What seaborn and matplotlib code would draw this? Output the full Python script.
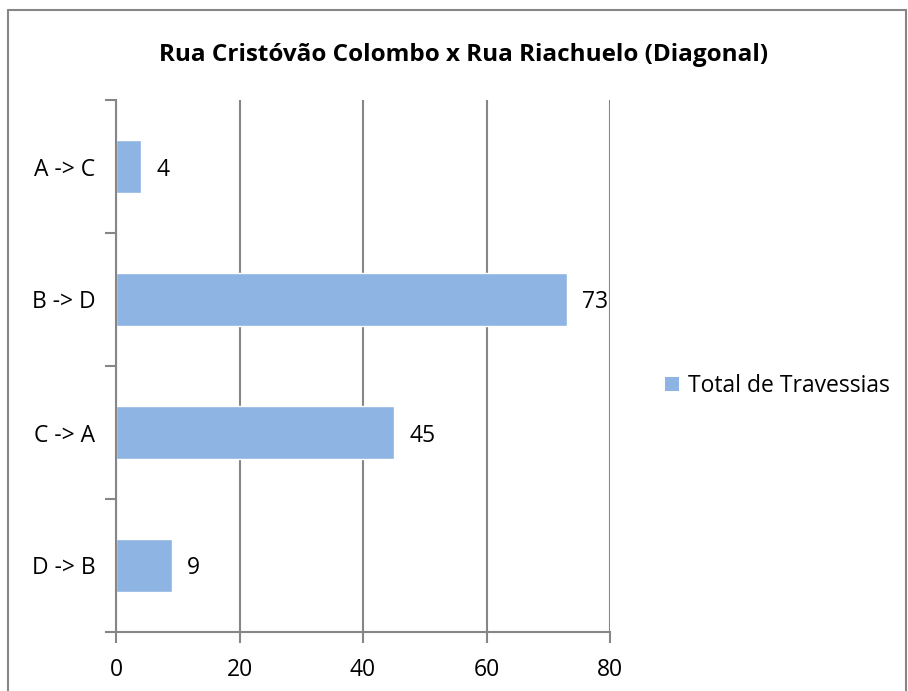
import matplotlib
matplotlib.use("Agg")
import matplotlib.pyplot as plt
import seaborn as sns
import pandas as pd
from matplotlib.lines import Line2D
from matplotlib.patches import Patch

categories = ["A -> C", "B -> D", "C -> A", "D -> B"]
values = [4, 73, 45, 9]
series_name = "Total de Travessias"
title = "Rua Cristóvão Colombo x Rua Riachuelo (Diagonal)"
xticks = [0, 20, 40, 60, 80]

sns.set_theme(style="white")
plt.rcParams['font.family'] = ['Open Sans', 'DejaVu Sans']
plt.rcParams['text.color'] = 'black'
plt.rcParams['xtick.color'] = 'black'
plt.rcParams['ytick.color'] = 'black'

FS = 16.5
W, H = 908, 691
fig = plt.figure(figsize=(W/100, H/100), dpi=100)
ax = fig.add_axes([116/W, 1-632/H, (610-116)/W, (632-100)/H])

df = pd.DataFrame({"cat": categories, "val": values})
bar_color = "#8EB4E3"
grey = "#868686"
sns.barplot(data=df, x="val", y="cat", orient="h", color=bar_color, width=0.4,
            ax=ax, saturation=1)

ax.set_xlim(0, 80)
ax.set_ylim(3.5, -0.5)
ax.set_xticks(xticks)
ax.set_xticklabels([str(t) for t in xticks], fontsize=FS)
ax.set_yticks(range(len(categories)))
ax.set_yticklabels(categories, fontsize=FS)
for lbl in ax.get_yticklabels():
    lbl.set_va('center_baseline')
ax.set_yticks([i - 0.5 for i in range(len(categories) + 1)], minor=True)
ax.tick_params(axis='y', which='major', length=0, pad=25, labelcolor='black')
ax.tick_params(axis='y', which='minor', length=8, width=1.5, color=grey, left=True)
ax.tick_params(axis='x', which='major', length=8, width=1.5, color=grey, bottom=True,
               pad=11, labelcolor='black')
ax.set_xlabel("")
ax.set_ylabel("")
ax.grid(axis='x', color=grey, linewidth=1.5)
ax.set_axisbelow(True)
for s in ["top", "right"]:
    ax.spines[s].set_visible(False)
for s in ["left", "bottom"]:
    ax.spines[s].set_color(grey)
    ax.spines[s].set_linewidth(1.5)

for i, v in enumerate(values):
    ax.text(v + 2.5, i, str(v), va='center_baseline', ha='left', fontsize=FS, color='black')

fig.text(464/W, 1-55/H, title, ha='center', va='center', fontsize=17.5,
         fontweight='bold', color='black')

handles = [Patch(facecolor=bar_color, edgecolor='none', label=series_name)]
fig.legend(handles=handles, loc='center left', bbox_to_anchor=(665/W, 1-386/H),
           frameon=False, fontsize=FS, handlelength=0.6, handleheight=0.6,
           handletextpad=0.4, borderaxespad=0, borderpad=0)

# outer chart border
fig.add_artist(Line2D([8/W, 8/W], [0, 1-10/H], color=grey, lw=1.5, transform=fig.transFigure))
fig.add_artist(Line2D([8/W, 906/W], [1-10/H, 1-10/H], color=grey, lw=1.5, transform=fig.transFigure))
fig.add_artist(Line2D([906/W, 906/W], [0, 1-10/H], color=grey, lw=1.5, transform=fig.transFigure))

fig.canvas.draw()
ax.tick_params(axis='y', which='major', pad=15)

fig.savefig("out.png", dpi=100)
